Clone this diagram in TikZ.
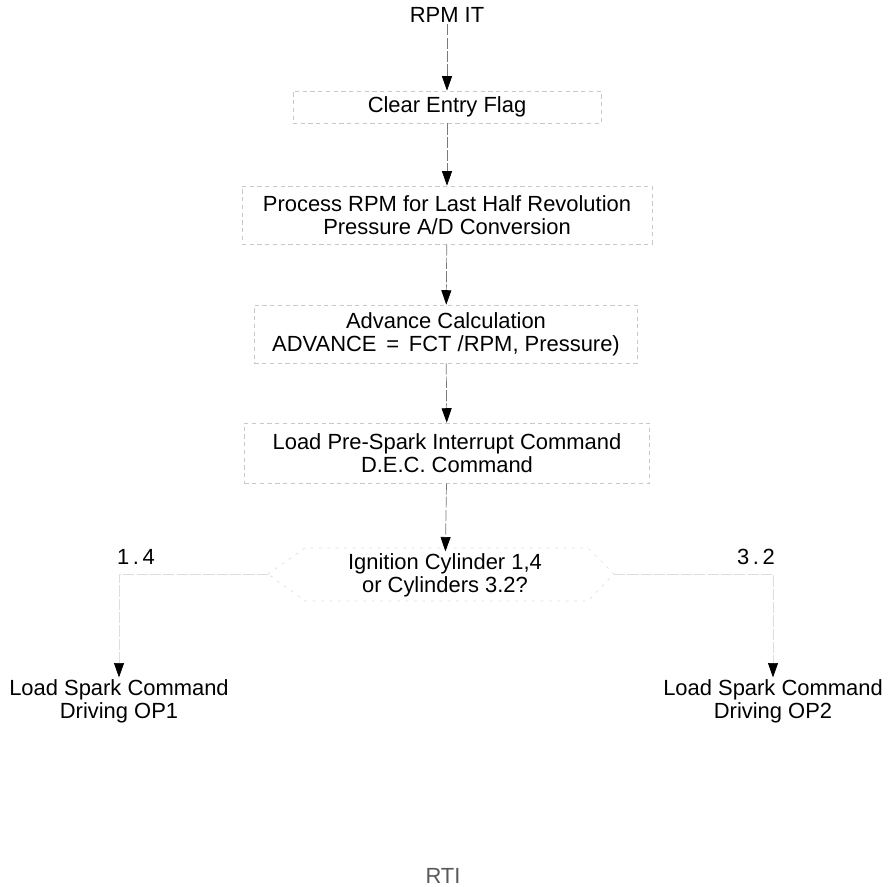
\documentclass[tikz,border=0pt]{standalone}
\usepackage{fontspec}
\setmainfont{Liberation Sans}
\usepackage{tikz}
\usetikzlibrary{arrows.meta,calc}
\usepackage{xcolor}
\definecolor{fd}{HTML}{C8C8C8}
\definecolor{vf}{HTML}{DDDDDD}
\definecolor{ln}{HTML}{7A7A7A}

\begin{document}
\begin{tikzpicture}[
        x=0.025cm, y=-0.025cm,
        font=\fontsize{15.6}{16.6}\selectfont,
        box/.style={draw=fd, dash pattern=on 3pt off 2.5pt, line width=0.5pt,
            align=center, inner sep=0pt},
        txt/.style={align=center, inner sep=1pt},
        flow/.style={draw=ln, line width=0.5pt, dash pattern=on 8pt off 1.5pt,
            -{Triangle[length=0.36cm,width=0.25cm,color=black]}},
    ]
\useasboundingbox (0,0) rectangle (888,887);

% main chain
\node[txt] (rpm) at (447,15) {RPM IT};
\node[box,minimum width=7.7cm,minimum height=0.8cm] (clr) at (447,107) {Clear Entry Flag};
\node[box,minimum width=10.25cm,minimum height=1.45cm] (prc) at (447,215)
    {Process RPM for Last Half Revolution\\Pressure A/D Conversion};
\node[box,minimum width=9.575cm,minimum height=1.45cm] (adv) at (446,334)
    {Advance Calculation\\ADVANCE \,=\, FCT /RPM, Pressure)};
\node[box,minimum width=10.125cm,minimum height=1.5cm] (pre) at (447,453)
    {Load Pre-Spark Interrupt Command\\D.E.C. Command};

% decision
\node[txt] (ask) at (445,575) {Ignition Cylinder 1,4\\or Cylinders 3.2?};
\coordinate (askL) at (268,574);
\coordinate (askR) at (614,574);
\draw[vf, dash pattern=on 2pt off 4pt, line width=0.5pt]
    (askL) -- (305,548) -- (588,548) -- (askR) -- (588,601) -- (305,601) -- cycle;

% branches
\node[txt] (l14) at (136,557) {1\,.\,4};
\node[txt] (l32) at (756,557) {3\,.\,2};
\node[txt] (op1) at (119,701) {Load Spark Command\\Driving OP1};
\node[txt] (op2) at (773,701) {Load Spark Command\\Driving OP2};

\node[txt,text=black!65] (rti) at (443,876) {RTI};

% connectors
\draw[flow] (rpm) -- (clr);
\draw[flow] (clr) -- (prc);
\draw[flow] (prc) -- (adv);
\draw[flow] (adv) -- (pre);
\draw[flow] (pre) -- (ask);
\draw[flow,draw=vf] (askL) -| (op1);
\draw[flow,draw=vf] (askR) -| (op2);
\end{tikzpicture}
\end{document}
